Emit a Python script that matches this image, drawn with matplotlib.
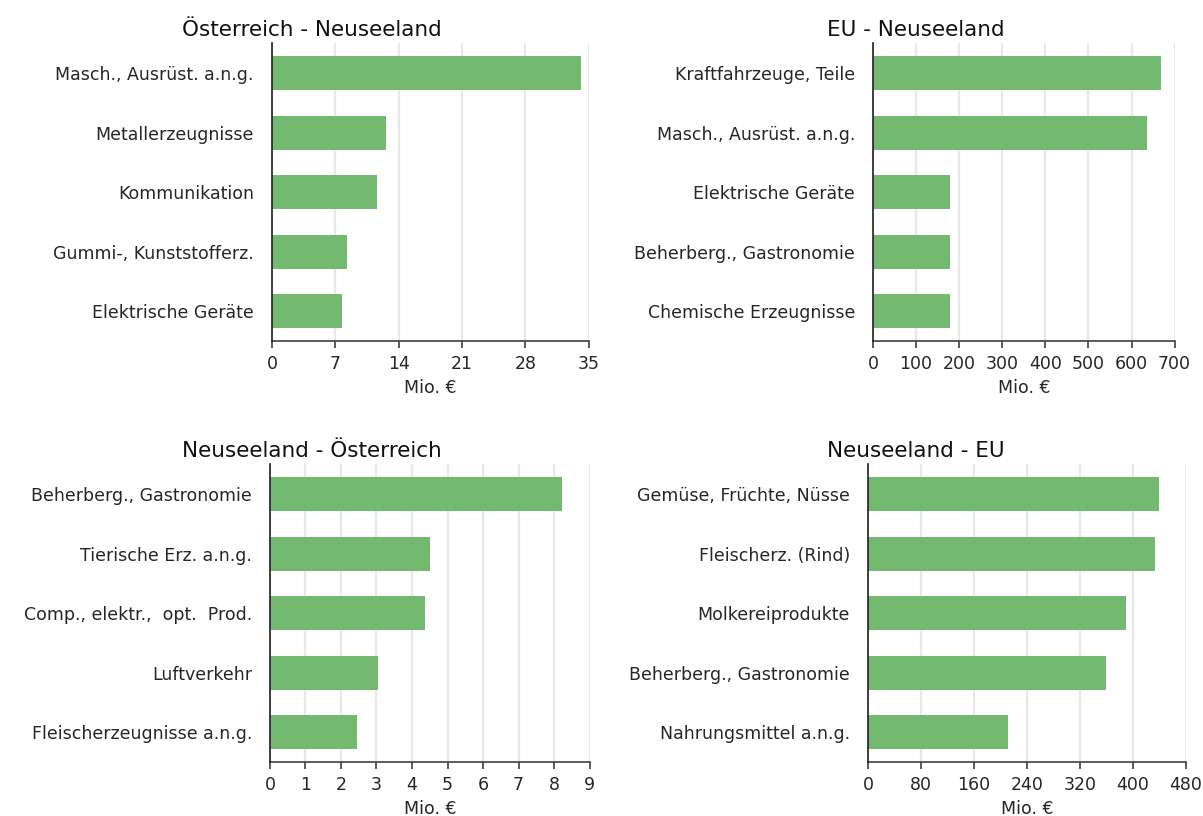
import matplotlib
matplotlib.use("Agg")
import matplotlib.pyplot as plt
import numpy as np

plt.rcParams['font.family'] = ['DejaVu Sans']

BAR_COLOR = '#73b96f'
GRID_COLOR = '#e8e8e8'
TEXT_COLOR = '#262626'

# Österreich -> Neuseeland
at_nz_cats = ['Masch., Ausrüst. a.n.g.', 'Metallerzeugnisse', 'Kommunikation',
              'Gummi-, Kunststofferz.', 'Elektrische Geräte']
at_nz_vals = [34.1, 12.6, 11.6, 8.3, 7.7]
at_nz_ticks = [0, 7, 14, 21, 28, 35]

# EU -> Neuseeland
eu_nz_cats = ['Kraftfahrzeuge, Teile', 'Masch., Ausrüst. a.n.g.', 'Elektrische Geräte',
              'Beherberg., Gastronomie', 'Chemische Erzeugnisse']
eu_nz_vals = [669, 636, 179, 179, 179]
eu_nz_ticks = [0, 100, 200, 300, 400, 500, 600, 700]

# Neuseeland -> Österreich
nz_at_cats = ['Beherberg., Gastronomie', 'Tierische Erz. a.n.g.', 'Comp., elektr.,  opt.  Prod.',
              'Luftverkehr', 'Fleischerzeugnisse a.n.g.']
nz_at_vals = [8.21, 4.51, 4.36, 3.04, 2.46]
nz_at_ticks = [0, 1, 2, 3, 4, 5, 6, 7, 8, 9]

# Neuseeland -> EU
nz_eu_cats = ['Gemüse, Früchte, Nüsse', 'Fleischerz. (Rind)', 'Molkereiprodukte',
              'Beherberg., Gastronomie', 'Nahrungsmittel a.n.g.']
nz_eu_vals = [439, 433, 389, 359, 211]
nz_eu_ticks = [0, 80, 160, 240, 320, 400, 480]

panels = [
    ('Österreich - Neuseeland', at_nz_cats, at_nz_vals, at_nz_ticks, [0.226, 0.582, 0.2635, 0.365], 0.259, 0.963),
    ('EU - Neuseeland', eu_nz_cats, eu_nz_vals, eu_nz_ticks, [0.7257, 0.582, 0.2507, 0.365], 0.761, 0.963),
    ('Neuseeland - Österreich', nz_at_cats, nz_at_vals, nz_at_ticks, [0.2244, 0.066, 0.2657, 0.365], 0.259, 0.447),
    ('Neuseeland - EU', nz_eu_cats, nz_eu_vals, nz_eu_ticks, [0.7215, 0.066, 0.2643, 0.365], 0.761, 0.447),
]

fig = plt.figure(figsize=(12.03, 8.16), dpi=100)

for title, cats, vals, ticks, rect, tx, ty in panels:
    ax = fig.add_axes(rect)
    y = np.arange(len(cats))
    ax.barh(y, vals, height=0.57, color=BAR_COLOR, zorder=3)
    ax.set_ylim(len(cats) - 0.5, -0.5)
    ax.set_xlim(ticks[0], ticks[-1])
    ax.set_xticks(ticks)
    ax.set_yticks(y)
    ax.set_yticklabels(cats, fontsize=12.5, color=TEXT_COLOR)
    ax.tick_params(axis='y', length=0, pad=13)
    ax.tick_params(axis='x', length=5, width=1.2, color='#404040', labelsize=12.5,
                   labelcolor=TEXT_COLOR, pad=5)
    ax.grid(True, axis='x', color=GRID_COLOR, linewidth=1.6, zorder=0)
    ax.set_axisbelow(True)
    for side in ['top', 'right']:
        ax.spines[side].set_visible(False)
    ax.spines['left'].set_color('#202020')
    ax.spines['left'].set_linewidth(1.2)
    ax.spines['left'].set_zorder(4)
    ax.spines['bottom'].set_color('#404040')
    ax.spines['bottom'].set_linewidth(1.2)
    ax.set_xlabel('Mio. €', fontsize=12.5, color=TEXT_COLOR, labelpad=4)
    fig.text(tx, ty, title, ha='center', va='center', fontsize=15.5, color='#111111')

fig.savefig('out.png', dpi=100)
